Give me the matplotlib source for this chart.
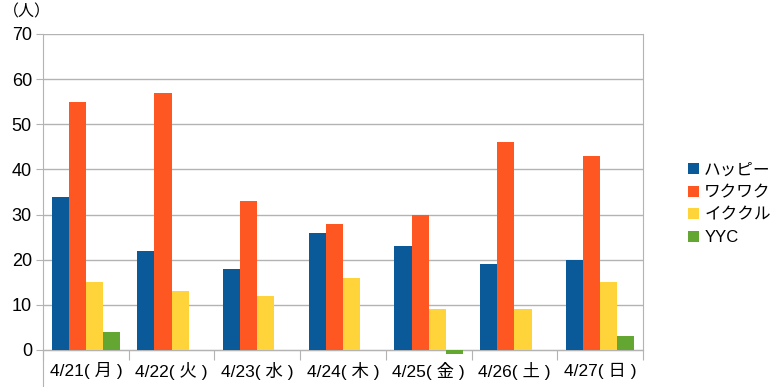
import numpy as np
import matplotlib.pyplot as plt

plt.rcParams['font.family'] = ['Liberation Sans', 'Noto Sans CJK JP']

# データ
days = ['4/21( 月 )', '4/22( 火 )', '4/23( 水 )', '4/24( 木 )',
        '4/25( 金 )', '4/26( 土 )', '4/27( 日 )']
happy = [34, 22, 18, 26, 23, 19, 20]
wakuwaku = [55, 57, 33, 28, 30, 46, 43]
ikukuru = [15, 13, 12, 16, 9, 9, 15]
yyc = [4, 0, 0, 0, -1, 0, 3]

series = [('ハッピー', happy, '#0a5a99'),
          ('ワクワク', wakuwaku, '#ff5722'),
          ('イククル', ikukuru, '#ffd43b'),
          ('YYC', yyc, '#64a632')]

fig = plt.figure(figsize=(7.73, 3.87), dpi=100)
ax = fig.add_axes([43 / 773, 0, 600 / 773, 353 / 387])

x = np.arange(len(days))
w = 0.2
for i, (name, vals, col) in enumerate(series):
    ax.bar(x - 0.3 + i * w, vals, w, color=col, label=name, zorder=3)

ax.set_xlim(-0.5, len(days) - 0.5)
ax.set_ylim(-8.2, 70)

# グリッドと軸
grid_c = '#b3b3b3'
for v in range(0, 71, 10):
    ax.axhline(v, color=grid_c, lw=1, zorder=1)
ax.set_yticks(range(0, 71, 10))
ax.tick_params(axis='y', length=5, color=grid_c, labelsize=13, pad=3)

ax.spines['top'].set_visible(False)
ax.spines['left'].set_color(grid_c)
ax.spines['right'].set_color(grid_c)
ax.spines['right'].set_bounds(0, 70)
ax.spines['bottom'].set_position(('data', 0))
ax.spines['bottom'].set_color(grid_c)

ax.set_xticks(np.arange(-0.5, len(days), 1))
ax.set_xticklabels([])
ax.tick_params(axis='x', which='major', length=7, color=grid_c)
ax.set_xticks(x, minor=True)
ax.set_xticklabels(days, minor=True)
ax.tick_params(axis='x', which='minor', length=0, labelsize=12.5, pad=9)

fig.text(3 / 773, 1 - 12 / 387, '（人）', fontsize=11.5, va='center', ha='left')

ax.legend(loc='center left', bbox_to_anchor=(680 / 773, 1 - 204 / 387),
          bbox_transform=fig.transFigure, frameon=False, fontsize=12,
          handlelength=0.65, handleheight=0.65, handletextpad=0.3,
          labelspacing=0.45, borderpad=0)

fig.savefig('out.png', dpi=100)
